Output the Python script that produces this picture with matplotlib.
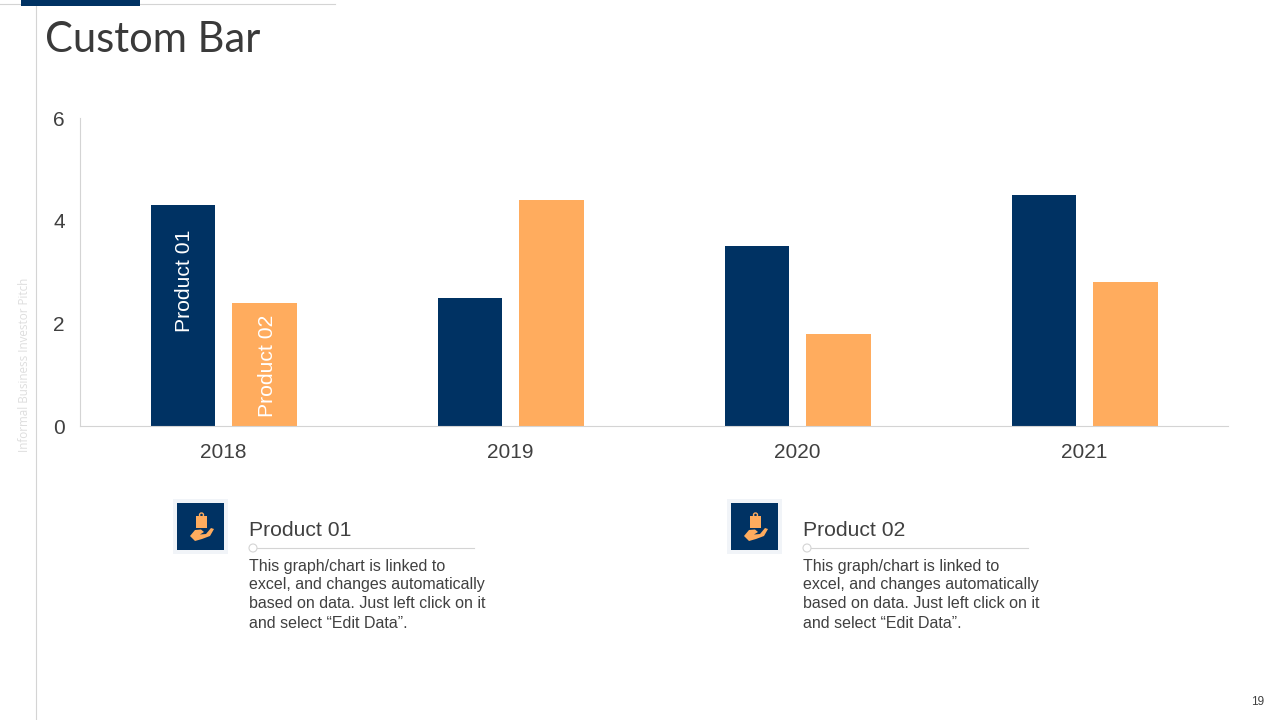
"""Custom Bar slide: two products by year, with the slide furniture drawn around it."""

import matplotlib
matplotlib.use("Agg")
import matplotlib.pyplot as plt
from matplotlib.patches import Circle, Polygon, Rectangle

years = ["2018", "2019", "2020", "2021"]
product_01 = [4.3, 2.5, 3.5, 4.5]
product_02 = [2.4, 4.4, 1.8, 2.8]
y_ticks = [0, 2, 4, 6]
legend_names = ["Product 01", "Product 02"]
body_lines = [
    "This graph/chart is linked to",
    "excel, and changes automatically",
    "based on data. Just left click on it",
    "and select \u201cEdit Data\u201d.",
]

NAVY = "#003263"
ORANGE = "#FFAC5E"
GREY_LINE = "#D4D4D4"
TEXT = "#404040"
W, H = 1280, 720

plt.rcParams["font.family"] = ["Liberation Sans", "DejaVu Sans"]

fig = plt.figure(figsize=(12.8, 7.2), dpi=100, facecolor="white")

# full-slide overlay in pixel coordinates for the slide furniture
bg = fig.add_axes([0, 0, 1, 1])
bg.set_xlim(0, W)
bg.set_ylim(H, 0)
bg.axis("off")

bg.plot([35.5, 35.5], [0, H], color=GREY_LINE, lw=0.8, zorder=1)
bg.plot([0, 335], [3.5, 3.5], color=GREY_LINE, lw=0.8, zorder=1)
bg.add_patch(Rectangle((21, 0), 119, 6, color=NAVY, lw=0, zorder=2))
bg.text(45, 52, "Custom Bar", fontsize=30, family="Lato", color="#3A3A3A",
        va="baseline", ha="left")
bg.text(25, 365, "Informal Business Investor Pitch", fontsize=8.4, family="Open Sans",
        color="#DEDEDE", rotation=90, va="center", ha="center")
bg.text(1258, 702, "19", fontsize=8.5, color=TEXT, va="center", ha="center")

# ── chart ────────────────────────────────────────────────
ax = fig.add_axes([80 / W, 1 - 426 / H, (1228 - 80) / W, (426 - 118) / H])
ax.patch.set_alpha(0)
xs = range(len(years))
bar_w = 0.224
bars_1 = ax.bar([x - 0.141 for x in xs], product_01, bar_w, color=NAVY)
bars_2 = ax.bar([x + 0.143 for x in xs], product_02, bar_w, color=ORANGE)
ax.set_xlim(-0.5, 3.5)
ax.set_ylim(0, 6)
ax.set_xticks(list(xs), years)
ax.set_yticks(y_ticks)
ax.tick_params(length=0, labelsize=15, labelcolor=TEXT)
ax.tick_params(axis="x", pad=12)
ax.tick_params(axis="y", pad=11)
for side in ("top", "right"):
    ax.spines[side].set_visible(False)
for side in ("left", "bottom"):
    ax.spines[side].set_color(GREY_LINE)
    ax.spines[side].set_linewidth(0.8)

ax.text(bars_1[0].get_x() + bar_w / 2 + 0.006, 2.83, legend_names[0], rotation=90,
        color="white", fontsize=15.2, ha="center", va="center")
ax.text(bars_2[0].get_x() + bar_w / 2 + 0.01, 1.17, legend_names[1], rotation=90,
        color="white", fontsize=15.2, ha="center", va="center")


def draw_icon(x0):
    # x0 is the left edge of the pale frame around the icon
    bg.add_patch(Rectangle((x0, 499), 55, 55, color="#F1F4F8", lw=0))
    bg.add_patch(Rectangle((x0 + 4, 503), 47, 47, color=NAVY, lw=0))
    cx = x0 + 28
    # clipboard held above the hand
    bg.add_patch(Rectangle((cx - 5, 516), 11, 12, color=ORANGE, lw=0))
    bg.add_patch(Circle((cx + 0.5, 515), 2, fc="none", ec=ORANGE, lw=1))
    # open hand
    bg.add_patch(Polygon([(cx - 11, 536), (cx - 6, 530), (cx, 529.5), (cx + 3, 532),
                          (cx - 1, 534.5), (cx + 5, 534), (cx + 10, 528), (cx + 13, 529),
                          (cx + 9, 536), (cx + 1, 539), (cx - 6, 541)],
                         closed=True, color=ORANGE, lw=0))


def draw_legend_block(x0, name):
    draw_icon(x0 - 76)
    bg.text(x0, 530, name, fontsize=15.2, color=TEXT, va="center", ha="left")
    bg.plot([x0 + 4, x0 + 225], [547.5, 547.5], color=GREY_LINE, lw=0.8)
    bg.add_patch(Circle((x0 + 4, 548), 4, fc="white", ec=GREY_LINE, lw=0.8, zorder=3))
    for i, line in enumerate(body_lines):
        bg.text(x0, 570.5 + i * 19, line, fontsize=11.5, color=TEXT, va="baseline", ha="left")


draw_legend_block(249, legend_names[0])
draw_legend_block(803, legend_names[1])

fig.savefig("out.png", dpi=100)
plt.close(fig)
